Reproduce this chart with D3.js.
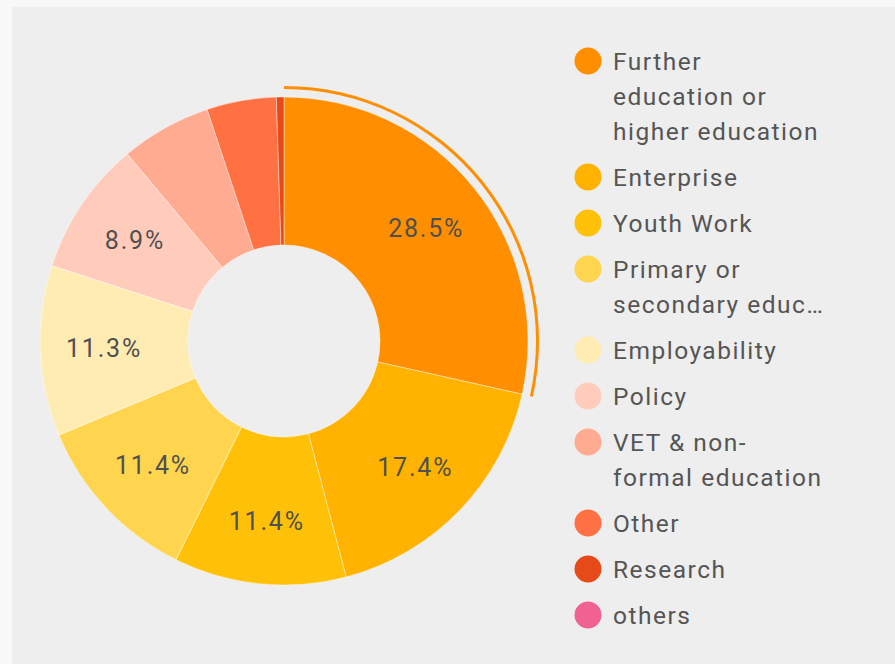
<!DOCTYPE html>
<html>
<head>
<meta charset="utf-8">
<script src="https://cdn.jsdelivr.net/npm/d3@7/dist/d3.min.js"></script>
<style>
  html, body { margin: 0; padding: 0; background: #f8f8f8; }
  svg { display: block; font-family: Roboto, "Noto Sans", sans-serif; }
</style>
</head>
<body>
<svg id="chart" width="895" height="664"></svg>
<script>
// Share of projects by field (percent)
const categories = [
  "Further education or higher education",
  "Enterprise",
  "Youth Work",
  "Primary or secondary education",
  "Employability",
  "Policy",
  "VET & non-formal education",
  "Other",
  "Research",
  "others"
];
const values = [28.5, 17.4, 11.4, 11.4, 11.3, 8.9, 6.0, 4.6, 0.5, 0.0];
// Legend text, broken into the lines it wraps to
const legendLines = [
  ["Further", "education or", "higher education"],
  ["Enterprise"],
  ["Youth Work"],
  ["Primary or", "secondary educ\u2026"],
  ["Employability"],
  ["Policy"],
  ["VET & non-", "formal education"],
  ["Other"],
  ["Research"],
  ["others"]
];
const colors = ["#ff8f00", "#ffb300", "#ffc107", "#ffd54f", "#ffecb3",
                "#ffccbc", "#ffab91", "#ff7043", "#e64a19", "#f06292"];
const minLabelShare = 8; // slices below this percentage stay unlabeled
const highlighted = 0;   // slice with the selection ring

const svg = d3.select("#chart");

// panel background
svg.append("rect").attr("x", 12).attr("y", 7).attr("width", 895).attr("height", 664)
  .attr("fill", "#eeeeee");

const cx = 284, cy = 341, R = 244, r0 = 96;
const total = d3.sum(values);
const data = categories.map((c, i) => ({ name: c, value: values[i], color: colors[i] }));

const pie = d3.pie().value(d => d.value).sort(null);
const arcs = pie(data);
const arc = d3.arc().innerRadius(r0).outerRadius(R);
const labelArc = d3.arc().innerRadius(181).outerRadius(181);

const g = svg.append("g").attr("transform", `translate(${cx},${cy})`);

g.selectAll("path.slice").data(arcs.filter(d => d.value > 0)).join("path")
  .attr("class", "slice")
  .attr("d", arc)
  .attr("fill", d => d.data.color)
  .attr("stroke", "#ffffff")
  .attr("stroke-opacity", 0.7)
  .attr("stroke-width", 0.6);

// selection ring around the highlighted slice
const sel = arcs[highlighted];
g.append("path")
  .attr("d", d3.arc().innerRadius(R + 8).outerRadius(R + 11)
    .startAngle(sel.startAngle).endAngle(sel.endAngle)())
  .attr("fill", sel.data.color);

// percentage labels
const pctSpacing = 1.8;
g.selectAll("text.pct").data(arcs.filter(d => d.data.value / total * 100 >= minLabelShare))
  .join("text")
  .attr("class", "pct")
  .attr("transform", d => {
    const [x, y] = labelArc.centroid(d);
    return `translate(${x + pctSpacing / 2},${y})`;
  })
  .attr("text-anchor", "middle")
  .attr("dy", "0.36em")
  .attr("font-size", 25)
  .attr("letter-spacing", pctSpacing)
  .attr("fill", "#505050")
  .text(d => (d.data.value / total * 100).toFixed(1) + "%");

// legend
const legend = svg.append("g");
const lineH = 35, entryGap = 46;
let y = 61;
legendLines.forEach((lines, i) => {
  const item = legend.append("g");
  item.append("circle").attr("cx", 588).attr("cy", y).attr("r", 13.5).attr("fill", colors[i]);
  lines.forEach((t, k) => {
    item.append("text")
      .attr("x", 613).attr("y", y + k * lineH)
      .attr("dy", "0.36em")
      .attr("font-size", 24.5)
      .attr("letter-spacing", 1.5)
      .attr("fill", "#555555")
      .text(t);
  });
  y += (lines.length - 1) * lineH + entryGap;
});
</script>
</body>
</html>
